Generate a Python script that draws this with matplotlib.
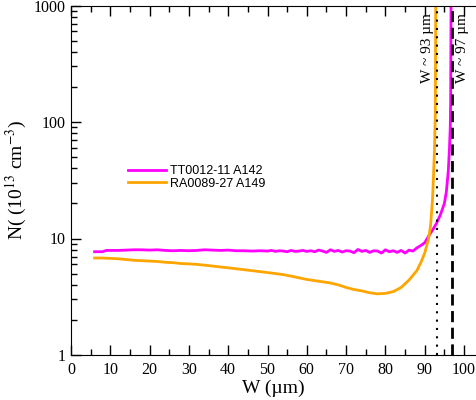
import matplotlib
matplotlib.use("Agg")
import matplotlib.pyplot as plt
from matplotlib.ticker import MultipleLocator, LogLocator, NullFormatter

# TT0012-11 A142 (magenta)
w_tt = [6, 8, 9, 10, 12, 14, 16, 18, 20, 22, 24, 26, 28, 30, 32, 34, 36, 38, 40,
        42, 44, 46, 48, 50, 51, 52, 53, 54, 55, 56, 57, 58, 59, 60, 61, 62, 63,
        64, 65, 66, 67, 68, 69, 70, 71, 72, 73, 74, 75, 76, 77, 78, 79, 80, 81,
        82, 83, 84, 85, 86, 87, 88, 89, 90, 91, 92, 93, 94, 95, 95.5, 96, 96.3,
        96.5, 96.6, 96.7]
n_tt = [7.7, 7.7, 7.9, 7.9, 7.9, 7.95, 8.0, 8.0, 7.95, 8.0, 7.9, 7.85, 7.9, 7.85,
        7.9, 8.0, 7.95, 7.9, 7.95, 7.85, 7.85, 7.8, 7.85, 7.8, 7.9, 7.75, 7.85,
        7.8, 7.7, 7.9, 7.75, 7.8, 7.9, 7.75, 7.85, 7.7, 7.95, 7.8, 7.6, 8.0, 7.75,
        7.9, 7.65, 7.85, 7.8, 7.55, 8.05, 7.75, 7.9, 7.6, 7.85, 7.8, 7.5, 8.0, 7.7,
        7.85, 7.6, 7.9, 7.5, 7.95, 7.8, 8.3, 8.7, 9.2, 10.5, 11.8, 13.5, 16, 20,
        25, 38, 60, 90, 150, 1000]

# RA0089-27 A149 (orange)
w_ra = [6, 8, 10, 12, 14, 16, 18, 20, 22, 24, 26, 28, 30, 32, 34, 36, 38, 40,
        42, 44, 46, 48, 50, 52, 54, 56, 58, 60, 62, 64, 66, 68, 70, 72, 74, 76,
        78, 80, 82, 84, 86, 88, 89, 90, 91, 91.5, 92, 92.2, 92.5, 92.7, 92.8]
n_ra = [6.8, 6.8, 6.75, 6.7, 6.6, 6.5, 6.45, 6.4, 6.35, 6.25, 6.2, 6.1, 6.05,
        6.0, 5.9, 5.8, 5.7, 5.6, 5.5, 5.4, 5.3, 5.2, 5.1, 5.0, 4.9, 4.75, 4.6,
        4.45, 4.35, 4.25, 4.15, 4.0, 3.8, 3.65, 3.55, 3.42, 3.35, 3.38, 3.5, 3.8,
        4.4, 5.3, 6.2, 7.5, 10, 13, 22, 32, 60, 120, 1000]

labels = ["TT0012-11 A142", "RA0089-27 A149"]
w_marks = [93, 97]
mark_text = ["W ~ 93 \u00b5m", "W ~ 97 \u00b5m"]

plt.rcParams['font.family'] = ['Liberation Serif', 'DejaVu Serif']
plt.rcParams['mathtext.fontset'] = 'stix'

fig = plt.figure(figsize=(4.76, 4.0), dpi=100)
ax = fig.add_axes([71 / 476, 45 / 400, 405 / 476, 349.5 / 400])

ax.plot(w_tt, n_tt, color="#ff00ff", lw=2, label=labels[0])
ax.plot(w_ra, n_ra, color="#ffa500", lw=2, label=labels[1])
ax.axvline(w_marks[0], color="black", lw=1.5, ls=(0, (1, 3)))
ax.axvline(w_marks[1], color="black", lw=2, ls=(0, (4, 2)))

ax.text(90.6, 860, mark_text[0], rotation=90, ha="center", va="top", fontsize=11)
ax.text(99.7, 860, mark_text[1], rotation=90, ha="center", va="top", fontsize=11)

ax.set_yscale("log")
ax.set_xlim(0, 103.05)
ax.set_ylim(1, 1000)
ax.xaxis.set_major_locator(MultipleLocator(10))
ax.xaxis.set_minor_locator(MultipleLocator(5))
ax.yaxis.set_major_locator(LogLocator(base=10))
ax.yaxis.set_minor_locator(LogLocator(base=10, subs=range(2, 10)))
ax.yaxis.set_minor_formatter(NullFormatter())
ax.set_yticks([1, 10, 100, 1000])
ax.set_yticklabels(["1", "10", "100", "1000"])
ax.tick_params(which="both", direction="in", top=True, right=False, labelsize=11.5)
ax.tick_params(which="major", length=7, width=1)
ax.tick_params(which="minor", length=4, width=1)
ax.tick_params(axis="x", pad=5)
ax.spines["right"].set_visible(False)

ax.set_xlabel("W (\u00b5m)", fontsize=14, labelpad=1)
ax.set_ylabel("N( (10$^{13}$ cm$^{-3}$)", fontsize=14, labelpad=4)

ax.legend(loc="upper left", bbox_to_anchor=(128 / 476, 1 - 165 / 400),
          bbox_transform=fig.transFigure, frameon=False, borderpad=0,
          borderaxespad=0, handlelength=3.0, handletextpad=0.4,
          labelspacing=0.05, prop={"family": "Liberation Sans", "size": 9})

fig.savefig("out.png", dpi=100)
